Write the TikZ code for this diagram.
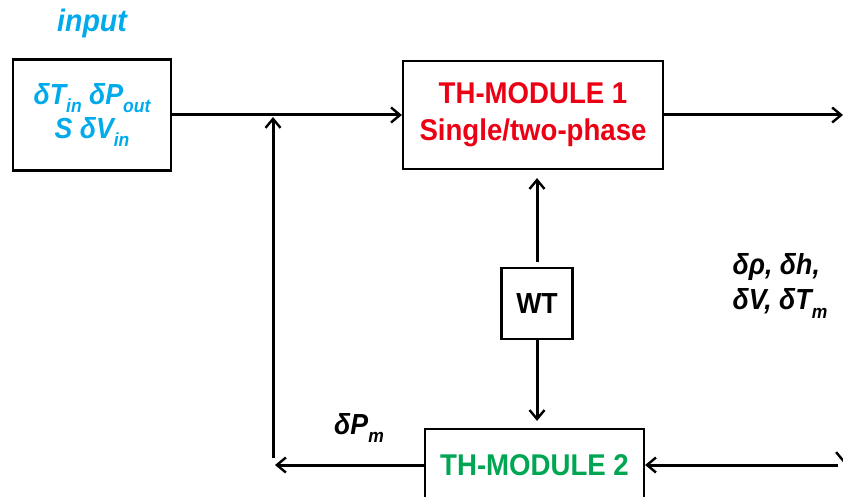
\documentclass[tikz,border=0pt]{standalone}
\usepackage{fontspec}
\setmainfont{Liberation Sans}[FakeStretch=0.92]
\usetikzlibrary{arrows.meta}
\definecolor{incyan}{RGB}{0,170,235}
\definecolor{modred}{RGB}{235,0,20}
\definecolor{modgreen}{RGB}{0,166,81}
\newcommand\sbx[1]{\raisebox{-0.28em}{\fontsize{19}{19}\selectfont #1}}
\tikzset{
  box/.style={draw, line width=2.2pt, inner sep=0pt, align=center},
  arr/.style={draw, line width=3pt, -{Straight Barb[length=9pt,width=15pt,line width=2.4pt]}},
  lbl/.style={font=\fontsize{29}{35}\selectfont\bfseries\itshape, align=left, inner sep=0pt}}
\begin{document}
\begin{tikzpicture}[x=1pt,y=-1pt]
\useasboundingbox (0,0) rectangle (843,497);
\node[text=incyan, font=\fontsize{31}{31}\selectfont\bfseries\itshape] (inlabel) at (92,23) {input};
\node[box, minimum width=158pt, minimum height=111pt, text=incyan,
      font=\fontsize{29}{34}\selectfont\bfseries\itshape] (inp) at (92,115)
      {δT\sbx{in} δP\sbx{out}\\S δV\sbx{in}};
\node[box, minimum width=260pt, minimum height=108pt, text=modred,
      font=\fontsize{30}{37}\selectfont\bfseries] (th1) at (533,115)
      {TH-MODULE 1\\Single/two-phase};
\node[box, minimum size=71pt, font=\fontsize{29}{29}\selectfont\bfseries] (wt) at (537,303.5) {WT};
\node[box, minimum width=219pt, minimum height=72pt, text=modgreen,
      font=\fontsize{30}{30}\selectfont\bfseries] (th2) at (534.5,465) {TH-MODULE 2};
\node[lbl] (vars) at (780,286) {δρ, δh,\\δV, δT\sbx{m}};
\node[lbl] (dpm) at (359,428) {δP\sbx{m}};
\coordinate (j) at (273,117);
\coordinate (jb) at (273,458);
\coordinate (lb) at (275,465);
\coordinate (rt) at (843,115);
\coordinate (rv1) at (843.6,118);
\coordinate (rv2) at (843.6,463);
\coordinate (rb) at (838,465);
\draw[arr] (inp.east) -- (inp.east -| th1.west);
\draw[arr] (jb) -- (j);
\draw[arr] (th1.east) -- (th1.east -| rt);
\draw[arr, line width=1.8pt] (rv1) -- (rv2);
\draw[arr] (rb) -- (th2.east);
\draw[arr] (th2.west) -- (lb);
\draw[arr, shorten <=5pt, shorten >=8pt] (wt.north) -- (wt.north |- th1.south);
\draw[arr, shorten >=7pt] (wt.south) -- (wt.south |- th2.north);
\end{tikzpicture}
\end{document}
